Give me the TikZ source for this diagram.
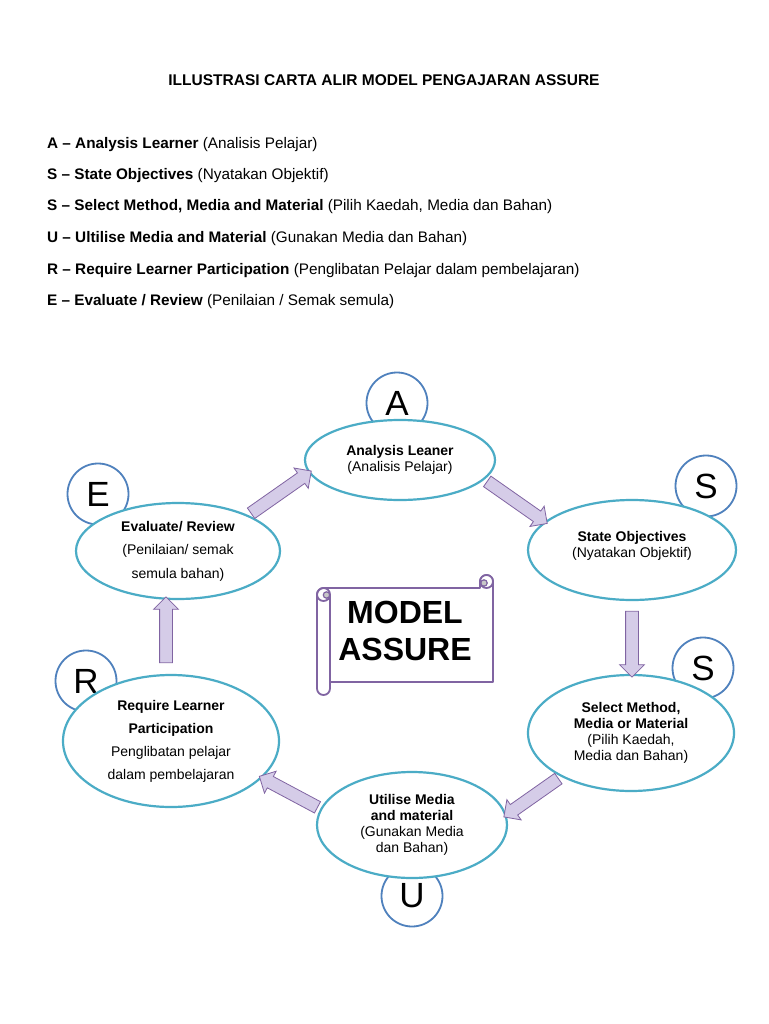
\documentclass[tikz,border=0pt]{standalone}
\usepackage{fontspec}
\setmainfont{Liberation Sans}
\usetikzlibrary{calc,shapes.geometric,shapes.arrows}

\definecolor{ringblue}{HTML}{4F81BD}
\definecolor{stagecyan}{HTML}{4BACC6}
\definecolor{flowfill}{HTML}{D5CCE8}
\definecolor{flowedge}{HTML}{8064A2}
\definecolor{curlgray}{HTML}{C8C8C8}

\tikzset{
  item/.style={anchor=base west, inner sep=0pt, font=\fontsize{15.3}{18}\selectfont},
  letter/.style={circle, draw=ringblue, line width=1.8pt, minimum size=61pt, inner sep=0pt, font=\fontsize{35}{35}\selectfont},
  stage/.style={ellipse, draw=stagecyan, line width=2.2pt, fill=white, inner sep=0pt, align=center, font=\fontsize{14}{16}\selectfont},
  flow/.style={single arrow, draw=flowedge, fill=flowfill, line width=0.8pt, inner sep=6pt, minimum width=24pt, single arrow head extend=6pt, single arrow tip angle=90}
}

\newcommand\flowarrow[3]{%
  \path let \p1=($(#3)-(#2)$) in
    node[flow, minimum height={veclen(\x1,\y1)}, rotate={atan2(\y1,\x1)}] (#1) at ($(#2)!0.5!(#3)$) {};}

\begin{document}
\begin{tikzpicture}[x=1pt,y=-1pt]
    \fill[white] (0,0) rectangle (768,1024);
    \useasboundingbox (0,0) rectangle (768,1024);

    \node[anchor=base, inner sep=0pt, font=\fontsize{15.5}{18}\selectfont\bfseries] (title) at (384,86) {ILLUSTRASI CARTA ALIR MODEL PENGAJARAN ASSURE};

    \node[item] (la) at (47,149) {\textbf{A – Analysis Learner} (Analisis Pelajar)};
    \node[item] (ls) at (47,180) {\textbf{S – State Objectives} (Nyatakan Objektif)};
    \node[item] (lm) at (47,211) {\textbf{S – Select Method, Media and Material} (Pilih Kaedah, Media dan Bahan)};
    \node[item] (lu) at (47,243) {\textbf{U – Ultilise Media and Material} (Gunakan Media dan Bahan)};
    \node[item] (lr) at (47,274) {\textbf{R – Require Learner Participation} (Penglibatan Pelajar dalam pembelajaran)};
    \node[item] (le) at (47,305) {\textbf{E – Evaluate / Review} (Penilaian / Semak semula)};

    \node[letter] (ca) at (397,403) {A};
    \node[letter] (cs) at (706,486) {S};
    \node[letter] (cm) at (703,668) {S};
    \node[letter] (cu) at (412,896) {U};
    \node[letter] (cr) at (86,681) {R};
    \node[letter] (ce) at (98,494) {E};

    \node[stage, minimum width=190pt, minimum height=80pt] (analysis) at (400,460)
        {\textbf{Analysis Leaner}\\(Analisis Pelajar)};
    \node[stage, minimum width=208pt, minimum height=100pt] (state) at (632,550)
        {\textbf{State Objectives}\\(Nyatakan Objektif)\\[-4pt]\mbox{}};
    \node[stage, minimum width=206pt, minimum height=116pt] (select) at (631,733)
        {\textbf{Select Method,}\\\textbf{Media or Material}\\(Pilih Kaedah,\\Media dan Bahan)};
    \node[stage, minimum width=190pt, minimum height=106pt] (utilise) at (412,825)
        {\textbf{Utilise Media}\\\textbf{and material}\\(Gunakan Media\\dan Bahan)};
    \node[stage, minimum width=216pt, minimum height=132pt, font=\fontsize{14}{23}\selectfont] (require) at (171,741)
        {\textbf{Require Learner}\\\textbf{Participation}\\Penglibatan pelajar\\dalam pembelajaran};
    \node[stage, minimum width=204pt, minimum height=96pt, font=\fontsize{14}{23.5}\selectfont] (evaluate) at (178,551)
        {\textbf{Evaluate/ Review}\\(Penilaian/ semak\\semula bahan)};

    \coordinate (st) at ([yshift=-7pt]state.south);
    \coordinate (sh) at (st |- select.north);
    \coordinate (rt) at ([shift={(-5pt,8pt)}]require.north);
    \coordinate (rh) at (rt |- evaluate.south);

    \flowarrow{fea}{evaluate.27}{analysis.188}
    \flowarrow{fas}{analysis.-13}{state.162}
    \flowarrow{fsm}{st}{sh}
    \flowarrow{fmu}{select.212}{utilise.6}
    \flowarrow{fur}{utilise.170}{require.-22}
    \flowarrow{fre}{rt}{rh}

    \draw[flowedge, line width=1.8pt, fill=white, line join=round]
        (317,594.5) -- (317,688.5) arc[start angle=180, end angle=0, radius=6.5]
        -- (330,682) -- (493,682) -- (493,581.5) arc[start angle=0, end angle=-180, radius=6.5]
        -- (480,588) -- (323.5,588) arc[start angle=-90, end angle=-180, radius=6.5] -- cycle;
    \draw[flowedge, line width=1.8pt] (330,594.5) -- (330,682);
    \draw[flowedge, line width=1.8pt] (323.5,594.5) circle (6.5);
    \draw[flowedge, line width=1.2pt, fill=curlgray] (326.5,595) circle (3.2);
    \draw[flowedge, line width=1.8pt, fill=white] (486.5,581.5) circle (6.5);
    \draw[flowedge, line width=1.2pt, fill=curlgray] (484,583) circle (3.2);

    \node[align=center, inner sep=0pt, font=\fontsize{32}{37}\selectfont\bfseries] (model) at (405,631) {MODEL\\ASSURE};
\end{tikzpicture}
\end{document}
